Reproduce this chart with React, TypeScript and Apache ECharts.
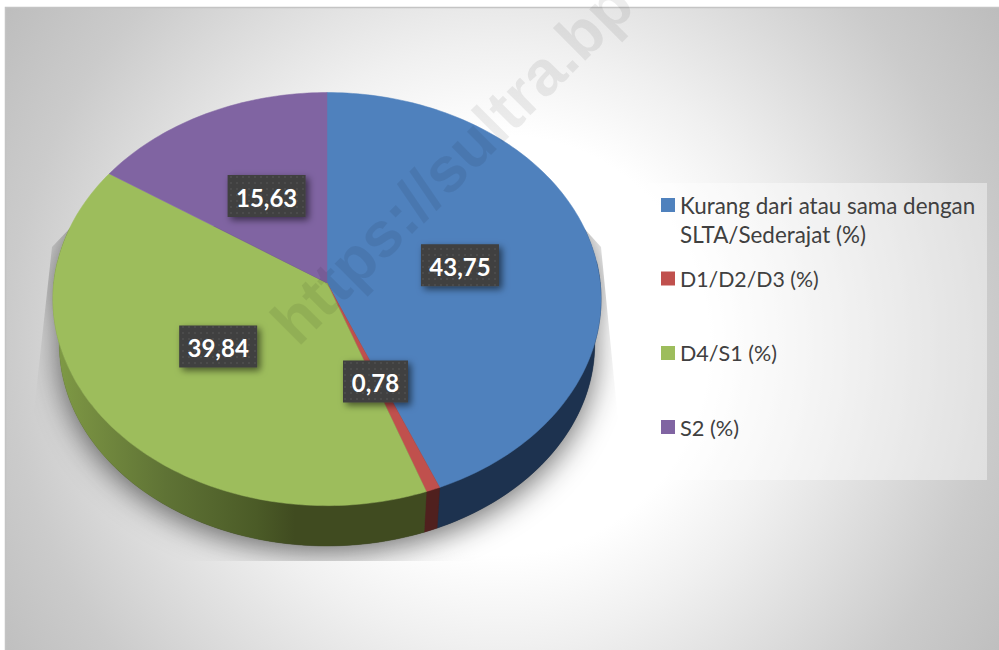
import React, { useEffect, useRef } from "react";
import * as echarts from "echarts";

const categories = ["Kurang dari atau sama dengan SLTA/Sederajat (%)", "D1/D2/D3 (%)", "D4/S1 (%)", "S2 (%)"];
const legendFirstLines = ["Kurang dari atau sama dengan", "D1/D2/D3 (%)", "D4/S1 (%)", "S2 (%)"];
const legendSecondLine = "SLTA/Sederajat (%)";
const values = [43.75, 0.78, 39.84, 15.63];
const topColors = ["#4f81bd", "#c0504d", "#9dbd5c", "#8064a2"];
const sideColors = ["#1d324f", "#50201e", "#404b20", "#3f3151"];
const watermark = "https://sultra.bp";

// perspective projection of the pie's circle
const CX = 327, CY = 283, A = 205.3, B = 273.2, K = -0.0779;
const BOTTOM_SCALE = 0.977, BOTTOM_DY = 45.4;
const FONT = "Lato, 'Open Sans', sans-serif";
const LABEL_NUDGE = [[0, 2], [-2.5, -1], [1.5, -1.3], [1.9, 0.6]];
const LEGEND_FONT_SIZES = [22.4, 21.3, 21.5, 21.8];

const total = values.reduce((a, b) => a + b, 0);
const angleAt = (i: number) => (values.slice(0, i).reduce((a, b) => a + b, 0) / total) * Math.PI * 2;

function proj(theta: number, r = 1, scale = 1, dy = 0): number[] {
  const u = r * Math.sin(theta);
  const v = -r * Math.cos(theta);
  const den = 1 + K * v;
  return [CX + (scale * B * u) / den, CY + dy + (scale * A * v) / den];
}
function arc(a: number, b: number, scale = 1, dy = 0): number[][] {
  const n = Math.max(2, Math.ceil((b - a) / 0.02));
  const pts: number[][] = [];
  for (let i = 0; i <= n; i++) pts.push(proj(a + ((b - a) * i) / n, 1, scale, dy));
  return pts;
}
const FRONT_A = (84 * Math.PI) / 180;
const FRONT_B = (276 * Math.PI) / 180;

const greenSide = () =>
  new echarts.graphic.LinearGradient(55, 0, 295, 0, [
    { offset: 0, color: "#7f9b45" },
    { offset: 0.12, color: "#778f41" },
    { offset: 0.46, color: "#5f7335" },
    { offset: 0.84, color: "#4b5b27" },
    { offset: 1, color: "#404b20" },
  ], true as any);

export default function App() {
  const ref = useRef<HTMLDivElement>(null);
  useEffect(() => {
    document.body.style.margin = "0";
    const chart = echarts.init(ref.current!, null, { renderer: "svg" });

    const cv = document.createElement("canvas");
    cv.width = 6; cv.height = 6;
    const ctx = cv.getContext("2d")!;
    ctx.fillStyle = "rgba(255,255,255,0.06)";
    ctx.fillRect(2, 2, 2, 2);

    const shadowSeries: any = {
      type: "custom", name: "_shadow", coordinateSystem: "none", silent: true, z: 1,
      data: [[0]],
      renderItem: () => ({
        type: "polygon",
        clipPath: {
          type: "polygon",
          shape: { points: [[72, 226], [52, 247], [33, 420], [33, 561], [619, 561], [619, 430], [601, 247], [582, 226]] },
        },
        shape: { points: [...arc(Math.PI / 2, (3 * Math.PI) / 2, BOTTOM_SCALE, BOTTOM_DY), ...arc((3 * Math.PI) / 2, (5 * Math.PI) / 2)] },
        style: { fill: "rgba(0,0,0,0.6)", shadowBlur: 30, shadowColor: "rgba(0,0,0,0.95)", shadowOffsetY: 7 },
      }),
    };

    const sideSeries: any = {
      type: "custom", name: "_side", coordinateSystem: "none", silent: true, z: 2,
      data: values.map((v) => [v]),
      renderItem: (p: any) => {
        const i = p.dataIndex;
        const a = Math.max(angleAt(i), FRONT_A);
        const b = Math.min(angleAt(i + 1), FRONT_B);
        if (b <= a) return { type: "group", children: [] };
        return {
          type: "polygon",
          shape: { points: [...arc(a, b), ...arc(a, b, BOTTOM_SCALE, BOTTOM_DY).reverse()] },
          style: { fill: i === 2 ? greenSide() : sideColors[i], stroke: i === 2 ? greenSide() : sideColors[i], lineWidth: 0.5 },
        };
      },
    };

    const topSeries: any[] = categories.map((name, i) => ({
      type: "custom", name, coordinateSystem: "none", silent: true, z: 3,
      itemStyle: { color: topColors[i] },
      data: [[values[i]]],
      renderItem: () => ({
        type: "polygon",
        shape: { points: [[CX, CY], ...arc(angleAt(i), angleAt(i + 1))] },
        style: { fill: topColors[i], stroke: topColors[i], lineWidth: 0.5 },
      }),
    }));

    const labelSeries: any = {
      type: "custom", name: "_labels", coordinateSystem: "none", silent: true, z: 6,
      data: values.map((v) => [v]),
      renderItem: (p: any, api: any) => {
        const i = p.dataIndex;
        const v = api.value(0);
        const txt = String(v).replace(".", ",");
        const [x0, y0] = proj((angleAt(i) + angleAt(i + 1)) / 2, 0.5);
        const x = x0 + LABEL_NUDGE[i][0];
        const y = y0 + LABEL_NUDGE[i][1];
        const w = 13 * txt.length + 13;
        const h = 42;
        const rectShape = { x: x - w / 2, y: y - h / 2, width: w, height: h };
        return {
          type: "group",
          children: [
            { type: "rect", shape: rectShape, style: { fill: "#3f3f3f", shadowBlur: 7, shadowOffsetX: 3, shadowOffsetY: 3, shadowColor: "rgba(0,0,0,0.55)" } },
            { type: "rect", shape: rectShape, style: { fill: { image: cv, repeat: "repeat" } } },
            { type: "text", style: { x, y: y + 1, text: txt, fill: "#ffffff", font: `bold 24px ${FONT}`, align: "center", verticalAlign: "middle" } },
          ],
        };
      },
    };

    chart.setOption({
      animation: false,
      legend: legendFirstLines.map((line, i) => ({
        data: [categories[i]],
        left: 661,
        top: 194 + i * 74,
        padding: 0,
        itemWidth: 14,
        itemHeight: 14,
        icon: "rect",
        selectedMode: false,
        formatter: () => line,
        textStyle: { color: "#404040", fontFamily: "Lato, 'Open Sans', sans-serif", fontSize: LEGEND_FONT_SIZES[i] },
      })),
      graphic: [
        {
          type: "rect", z: -10, silent: true,
          shape: { x: 5.5, y: 7.5, width: 1000, height: 650 },
          style: {
            fill: new echarts.graphic.RadialGradient(500, 345, 600, [
              { offset: 0, color: "#ffffff" },
              { offset: 0.35, color: "#ffffff" },
              { offset: 0.5, color: "#f0f0f0" },
              { offset: 0.57, color: "#e8e8e8" },
              { offset: 0.82, color: "#cbcbcb" },
              { offset: 1, color: "#bdbdbd" },
            ], true as any),
            stroke: "#c4c4c4", lineWidth: 1.5,
          },
        },
        {
          type: "rect", z: 0, silent: true,
          shape: { x: 648, y: 183, width: 339, height: 297 },
          style: { fill: "rgba(255,255,255,0.42)" },
        },
        {
          type: "text", z: 5, silent: true, x: 305, y: 355, rotation: Math.PI / 4,
          style: { text: watermark, fill: "rgba(0,0,0,0.07)", font: "bold 63.5px 'Liberation Sans', sans-serif", align: "left", verticalAlign: "bottom" },
        },
        {
          type: "text", z: 6, silent: true, x: 680, y: 234,
          style: { text: legendSecondLine, fill: "#404040", font: `22.4px ${FONT}`, align: "left", verticalAlign: "middle" },
        },
      ],
      series: [shadowSeries, sideSeries, ...topSeries, labelSeries],
    });
    return () => chart.dispose();
  }, []);
  return <div ref={ref} style={{ position: "absolute", left: 0, top: 0, width: 999, height: 650 }} />;
}
